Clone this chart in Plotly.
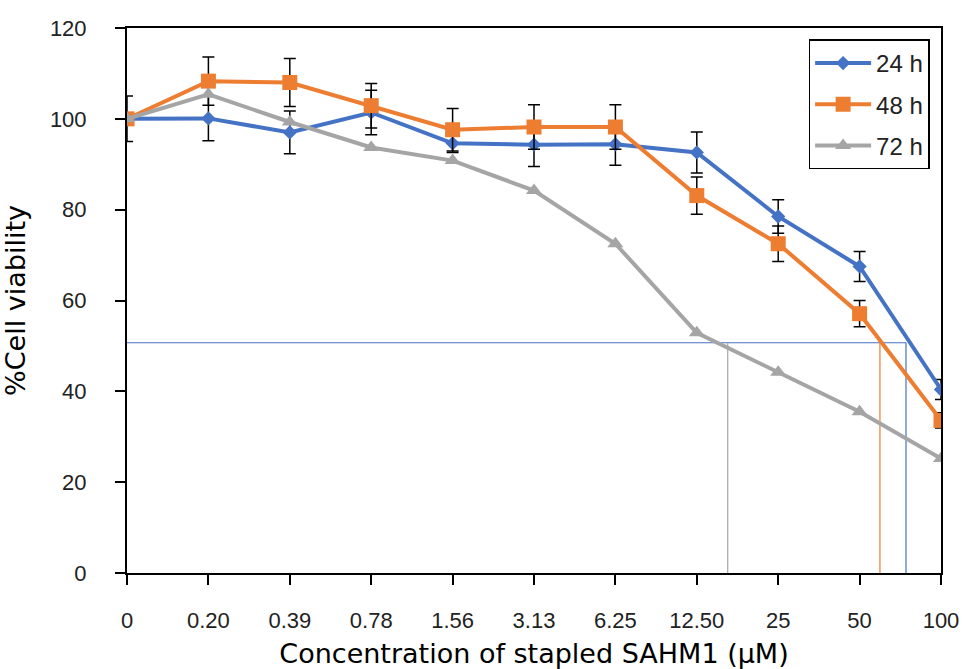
import plotly.graph_objects as go

categories = ["0", "0.20", "0.39", "0.78", "1.56", "3.13", "6.25", "12.50", "25", "50", "100"]
series_names = ["24 h", "48 h", "72 h"]
viab_24h = [100, 100.1, 97.0, 101.4, 94.6, 94.3, 94.4, 92.6, 78.5, 67.5, 40.4]
viab_48h = [100, 108.3, 108.0, 102.9, 97.6, 98.2, 98.2, 83.1, 72.5, 57.1, 33.6]
viab_72h = [100, 105.4, 99.3, 93.7, 90.8, 84.2, 72.5, 52.9, 44.2, 35.5, 25.2]
err_24h = [5.0, 4.9, 4.7, 4.9, 2.0, 4.8, 4.6, 4.5, 3.7, 3.3, 2.2]
err_48h = [0.5, 5.3, 5.3, 4.9, 4.7, 4.9, 4.9, 4.1, 3.9, 2.9, 1.7]
ic50_level = 50.7
ic50_pos = [9.57, 9.25, 7.38]  # category-index positions for 24 h, 48 h, 72 h
y_ticks = [0, 20, 40, 60, 80, 100, 120]

colors = ["#4472C4", "#ED7D31", "#A5A5A5"]
symbols = ["diamond", "square", "triangle-up"]
msizes = [11, 15, 14]
values = [viab_24h, viab_48h, viab_72h]
errors = [err_24h, err_48h, None]

xpos = list(range(len(categories)))
FONT = "Liberation Sans, Arial, sans-serif"
TFONT = "DejaVu Sans, Verdana, sans-serif"

fig = go.Figure()

# IC50 reference lines
fig.add_trace(go.Scatter(x=[0, max(ic50_pos)], y=[ic50_level, ic50_level], mode="lines",
                         line=dict(color=colors[0], width=1.2), showlegend=False, hoverinfo="skip"))
for pos, c in zip(ic50_pos, colors):
    fig.add_trace(go.Scatter(x=[pos, pos], y=[0, ic50_level], mode="lines",
                             line=dict(color=c, width=1.2), showlegend=False, hoverinfo="skip"))

for i, (name, vals, err) in enumerate(zip(series_names, values, errors)):
    kw = {}
    if err is not None:
        kw["error_y"] = dict(type="data", array=err, visible=True, color="black",
                             thickness=1.5, width=6)
    fig.add_trace(go.Scatter(
        x=xpos, y=vals, name=name, mode="lines+markers",
        line=dict(color=colors[i], width=4),
        marker=dict(symbol=symbols[i], size=msizes[i], color=colors[i]),
        legendgroup=name, **kw))

fig.update_layout(
    width=964, height=669,
    margin=dict(l=127, r=23, t=28, b=96),
    paper_bgcolor="white", plot_bgcolor="white",
    font=dict(family=FONT, color="#222222", size=22),
    showlegend=True,
    legend=dict(x=0.986, xanchor="right", y=0.979, yanchor="top",
                bordercolor="black", borderwidth=1.5, bgcolor="white",
                font=dict(size=24, family=FONT, color="#222222"),
                itemwidth=56, traceorder="grouped", tracegroupgap=7),
)
fig.update_xaxes(
    range=[0, len(categories) - 1], tickmode="array", tickvals=xpos, ticktext=categories,
    showline=True, linecolor="black", linewidth=2, mirror=True,
    ticks="outside", ticklen=10, tickwidth=1.5, tickcolor="black",
    ticklabelstandoff=17, showgrid=False, zeroline=False, automargin=False,
    tickfont=dict(size=22),
    title=dict(text="Concentration of stapled SAHM1 (μM)", font=dict(size=27, family=TFONT, color="black"), standoff=12),
)
fig.update_yaxes(
    range=[0, 120], tickmode="array", tickvals=y_ticks,
    showline=True, linecolor="black", linewidth=2, mirror=True,
    ticks="outside", ticklen=10, tickwidth=1.5, tickcolor="black",
    ticklabelstandoff=24, showgrid=False, zeroline=False, automargin=False,
    tickfont=dict(size=22),
    title=dict(text="%Cell viability", font=dict(size=27, family=TFONT, color="black"), standoff=16),
)

fig.write_html("out.html", config={"displayModeBar": False},
               post_script="document.body.style.margin='0';document.body.style.overflow='hidden';")
